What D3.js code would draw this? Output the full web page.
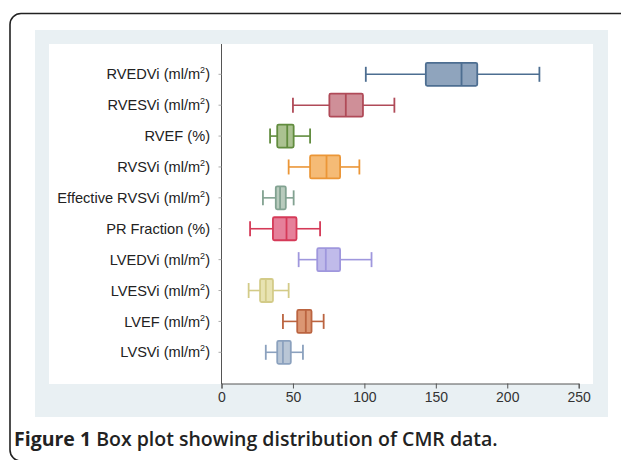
<!DOCTYPE html>
<html>
<head>
<meta charset="utf-8">
<script src="https://cdn.jsdelivr.net/npm/d3@7"></script>
<style>
  body { margin: 0; background: #fff; }
  svg { display: block; }
</style>
</head>
<body>
<div id="chart"></div>
<script>
// CMR box plot data
var categories = ['RVEDVi', 'RVESVi', 'RVEF', 'RVSVi', 'Effective RVSVi', 'PR Fraction', 'LVEDVi', 'LVESVi', 'LVEF', 'LVSVi'];
var units = ['ml/m2', 'ml/m2', '%', 'ml/m2', 'ml/m2', '%', 'ml/m2', 'ml/m2', 'ml/m2', 'ml/m2'];
var whiskerLow = [101, 50, 34, 47, 29, 20, 54, 19, 43, 31];
var q1 = [143, 75.5, 39, 62, 38, 36, 67, 27, 53, 39];
var median = [168, 87, 46, 73.5, 41, 45.5, 73, 31, 59, 43];
var q3 = [179, 99, 50.5, 83, 45, 52.5, 83, 36, 63, 48.5];
var whiskerHigh = [222.5, 121, 62, 96.5, 50.5, 69, 105, 47, 71.5, 57];
var xTicks = [0, 50, 100, 150, 200, 250];
var fills = ['#8fa4bd', '#cf8f98', '#abc291', '#f5bb76', '#b8cbbd', '#e6809a', '#c0bbea', '#e8e3b2', '#db9673', '#b9c6d6'];
var strokes = ['#4d6e91', '#b04a58', '#618c3e', '#eb9637', '#82a291', '#d53a58', '#9f97dd', '#d3cb88', '#bb6440', '#8ba1be'];
var caption = ['Figure 1', ' Box plot showing distribution of CMR data.'];

var width = 621, height = 460;
var boxH = 23, capH = 15;

var svg = d3.select('#chart').append('svg').attr('width', width).attr('height', height);

// frame + panels
svg.append('rect').attr('x', 10).attr('y', 13.5).attr('width', 700).attr('height', 447.5)
  .attr('rx', 11).attr('fill', 'none').attr('stroke', '#222').attr('stroke-width', 1.6);
svg.append('rect').attr('x', 35).attr('y', 30).attr('width', 573).attr('height', 387).attr('fill', '#e9f0f3');
svg.append('rect').attr('x', 49).attr('y', 44).attr('width', 544).attr('height', 340).attr('fill', '#fff');

var x = d3.scaleLinear().domain([0, 250]).range([221.5, 578.7]);
var y = d3.scalePoint().domain(categories).range([74.3, 352.3]);

// x axis
var xAxis = svg.append('g').attr('transform', 'translate(0,383.5)')
  .call(d3.axisBottom(x).tickValues(xTicks).tickSize(5).tickPadding(4));
xAxis.select('.domain').attr('stroke', '#555');
xAxis.selectAll('.tick line').attr('stroke', '#555');
xAxis.selectAll('.tick text').attr('font-family', 'Liberation Sans, Arial, sans-serif')
  .attr('font-size', 14).attr('fill', '#333');

// y axis line
svg.append('line').attr('x1', 221.5).attr('x2', 221.5).attr('y1', 44).attr('y2', 384)
  .attr('stroke', '#555').attr('stroke-width', 1);
svg.append('g').selectAll('line').data(categories).enter().append('line')
  .attr('x1', 218.5).attr('x2', 221.5)
  .attr('y1', function(d) { return y(d); }).attr('y2', function(d) { return y(d); })
  .attr('stroke', '#aaa');

// labels
var lab = svg.append('g').attr('font-family', 'Liberation Sans, Arial, sans-serif').attr('font-size', 14.6)
  .attr('fill', '#222').attr('text-anchor', 'end');
categories.forEach(function(c, i) {
  var t = lab.append('text').attr('x', 210).attr('y', y(c)).attr('dy', '0.35em');
  if (units[i] === '%') {
    t.text(c + ' (%)');
  } else {
    t.append('tspan').text(c + ' (ml/m');
    t.append('tspan').attr('font-size', 9).attr('dy', -6).text('2');
    t.append('tspan').attr('dy', 6).text(')');
  }
});

// boxes
var g = svg.append('g').selectAll('g').data(categories).enter().append('g')
  .attr('transform', function(d) { return 'translate(0,' + y(d) + ')'; });

g.append('line').attr('x1', function(d, i) { return x(whiskerLow[i]); }).attr('x2', function(d, i) { return x(q1[i]); })
  .attr('stroke', function(d, i) { return strokes[i]; }).attr('stroke-width', 1.6);
g.append('line').attr('x1', function(d, i) { return x(q3[i]); }).attr('x2', function(d, i) { return x(whiskerHigh[i]); })
  .attr('stroke', function(d, i) { return strokes[i]; }).attr('stroke-width', 1.6);
g.append('line').attr('x1', function(d, i) { return x(whiskerLow[i]); }).attr('x2', function(d, i) { return x(whiskerLow[i]); })
  .attr('y1', -capH / 2).attr('y2', capH / 2)
  .attr('stroke', function(d, i) { return strokes[i]; }).attr('stroke-width', 1.8);
g.append('line').attr('x1', function(d, i) { return x(whiskerHigh[i]); }).attr('x2', function(d, i) { return x(whiskerHigh[i]); })
  .attr('y1', -capH / 2).attr('y2', capH / 2)
  .attr('stroke', function(d, i) { return strokes[i]; }).attr('stroke-width', 1.8);
g.append('rect').attr('x', function(d, i) { return x(q1[i]); })
  .attr('width', function(d, i) { return x(q3[i]) - x(q1[i]); })
  .attr('y', -boxH / 2).attr('height', boxH).attr('rx', 1.5)
  .attr('fill', function(d, i) { return fills[i]; })
  .attr('stroke', function(d, i) { return strokes[i]; }).attr('stroke-width', 1.8);
g.append('line').attr('x1', function(d, i) { return x(median[i]); }).attr('x2', function(d, i) { return x(median[i]); })
  .attr('y1', -boxH / 2).attr('y2', boxH / 2)
  .attr('stroke', function(d, i) { return strokes[i]; }).attr('stroke-width', 1.8);

// caption
var cap = svg.append('text').attr('x', 14).attr('y', 446)
  .attr('font-family', 'Open Sans, Noto Sans, sans-serif').attr('font-size', 19.5).attr('fill', '#222');
cap.append('tspan').attr('font-weight', 'bold').text(caption[0]);
cap.append('tspan').attr('font-weight', 600).text(caption[1]);
</script>
</body>
</html>
